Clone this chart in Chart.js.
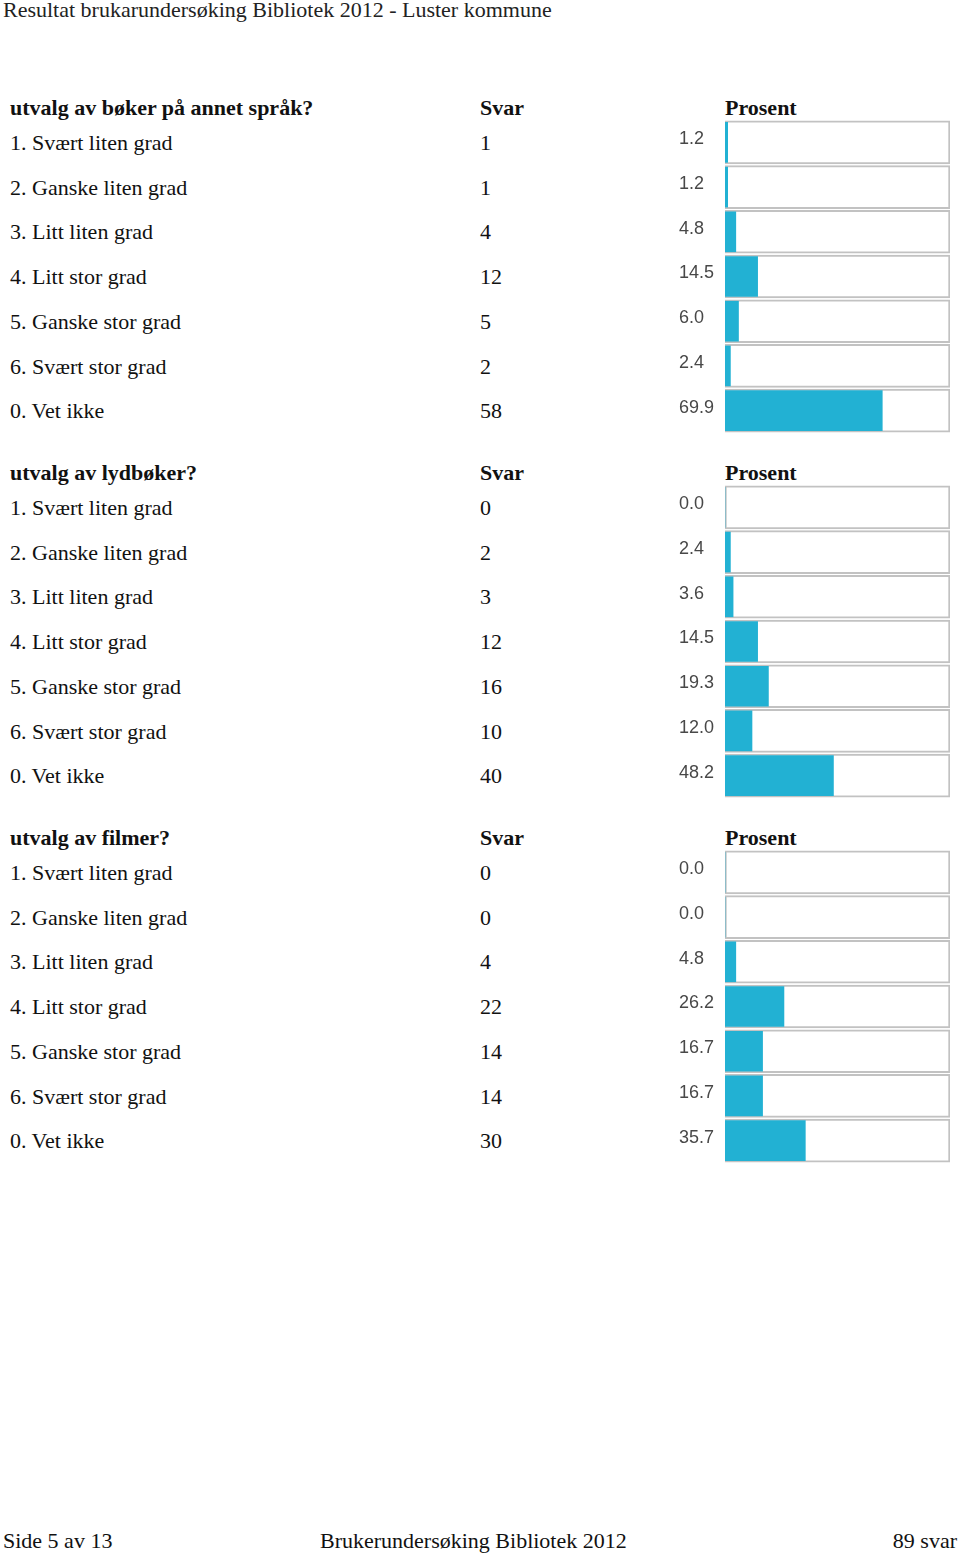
<!DOCTYPE html>
<html>
<head>
<meta charset="utf-8">
<script src="https://cdn.jsdelivr.net/npm/chart.js@4/dist/chart.umd.min.js"></script>
<style>
  body { margin: 0; width: 960px; height: 1556px; position: relative; background: #fff; overflow: hidden; }
  .t { position: absolute; white-space: nowrap; font-family: "Liberation Serif", "Times New Roman", serif; font-size: 22px; line-height: 26px; color: #111; }
  .b { font-weight: bold; }
  canvas { position: absolute; }
</style>
</head>
<body>
<div class="t" style="left:3px;top:-3px;color:#222">Resultat brukarundersøking Bibliotek 2012 - Luster kommune</div>
<div class="t" style="left:3px;top:1528px">Side 5 av 13</div>
<div class="t" style="left:320px;top:1528px">Brukerundersøking Bibliotek 2012</div>
<div class="t" style="right:3px;top:1528px">89 svar</div>

<script>
// ── Data ──
const answers = [
  "1. Svært liten grad", "2. Ganske liten grad", "3. Litt liten grad",
  "4. Litt stor grad", "5. Ganske stor grad", "6. Svært stor grad", "0. Vet ikke"
];

const questions = ["utvalg av bøker på annet språk?", "utvalg av lydbøker?", "utvalg av filmer?"];

const countsBooks  = [1, 1, 4, 12, 5, 2, 58];
const countsAudio  = [0, 2, 3, 12, 16, 10, 40];
const countsFilms  = [0, 0, 4, 22, 14, 14, 30];

const pctBooks  = [1.2, 1.2, 4.8, 14.5, 6.0, 2.4, 69.9];
const pctAudio  = [0.0, 2.4, 3.6, 14.5, 19.3, 12.0, 48.2];
const pctFilms  = [0.0, 0.0, 4.8, 26.2, 16.7, 16.7, 35.7];

const fullScale = [100, 100, 100, 100, 100, 100, 100];

const sections = [
  { q: questions[0], counts: countsBooks, pct: pctBooks },
  { q: questions[1], counts: countsAudio, pct: pctAudio },
  { q: questions[2], counts: countsFilms, pct: pctFilms }
];

const BAR   = "#22b1d3";
const FRAME = "#c2c2c2";
const PITCH = 44.7;

// ── Helpers ──
function addText(txt, left, centerY, bold) {
  const d = document.createElement("div");
  d.className = "t" + (bold ? " b" : "");
  d.textContent = txt;
  d.style.left = left + "px";
  d.style.top = (centerY - 13) + "px";
  document.body.appendChild(d);
}

// percent labels, left-aligned in a column before each frame, a bit above centre
const pctLabels = {
  id: "pctLabels",
  afterDraw(chart) {
    const { ctx, chartArea, scales } = chart;
    const vals = chart.data.datasets[0].data;
    ctx.save();
    ctx.font = "18px 'Liberation Sans', Arial, sans-serif";
    ctx.fillStyle = "#484848";
    ctx.textAlign = "left";
    ctx.textBaseline = "middle";
    vals.forEach((v, i) => {
      ctx.fillText(v.toFixed(1), chartArea.left - 46, scales.y.getPixelForValue(i) - 3);
    });
    ctx.restore();
  }
};

// ── Render ──
sections.forEach((s, si) => {
  const y0 = 108 + si * 365;
  addText(s.q, 10, y0, true);
  addText("Svar", 480, y0, true);
  addText("Prosent", 725, y0, true);

  answers.forEach((a, i) => {
    addText(a, 10, y0 + 35 + i * PITCH, false);
    addText(String(s.counts[i]), 480, y0 + 35 + i * PITCH, false);
  });

  const canvas = document.createElement("canvas");
  canvas.width = 296;
  canvas.height = 313;
  canvas.style.left = "655px";
  canvas.style.top = (y0 + 12) + "px";
  document.body.appendChild(canvas);

  new Chart(canvas, {
    type: "bar",
    data: {
      labels: answers,
      datasets: [
        {
          data: s.pct,
          backgroundColor: BAR,
          borderWidth: 0,
          barThickness: 40,
          grouped: false,
          order: 1
        },
        {
          data: fullScale,
          backgroundColor: "#ffffff",
          borderColor: FRAME,
          borderWidth: 2,
          borderSkipped: false,
          barThickness: 43,
          grouped: false,
          order: 2
        }
      ]
    },
    options: {
      indexAxis: "y",
      responsive: false,
      animation: false,
      layout: { padding: { left: 70, right: 1, top: 0, bottom: 0 } },
      plugins: { legend: { display: false }, tooltip: { enabled: false } },
      scales: {
        x: { min: 0, max: 100, display: false },
        y: { display: false }
      }
    },
    plugins: [pctLabels]
  });
});
</script>
</body>
</html>
